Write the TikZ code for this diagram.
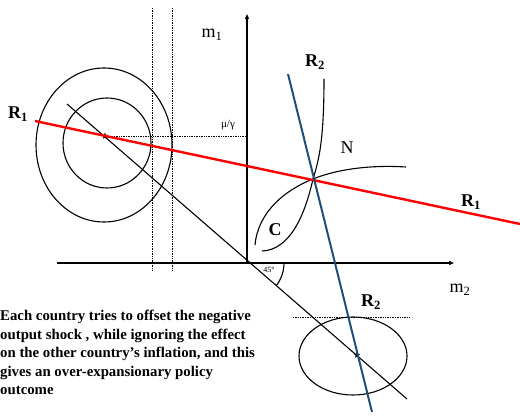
\documentclass[tikz,border=0pt]{standalone}
\usepackage{fontspec}
\setmainfont{Liberation Serif}
\usepackage{xcolor}
\usetikzlibrary{arrows.meta, positioning, shapes.geometric}
\definecolor{rtwoblue}{HTML}{1F4E79}

\begin{document}
\begin{tikzpicture}[
        x=1pt, y=-1pt,
        axis/.style={-{Triangle[length=5pt, width=4pt]}, line width=1.1pt},
        contour/.style={line width=1.1pt},
        guide/.style={densely dotted, line width=0.7pt},
        rone/.style={red, line width=2.4pt},
        rtwo/.style={rtwoblue, line width=2pt},
        lab/.style={font=\fontsize{18}{18}\selectfont, inner sep=0pt},
        blab/.style={lab, font=\fontsize{18}{18}\selectfont\bfseries},
        bliss/.style={star, star points=5, star point ratio=2.4, fill, inner sep=0pt, minimum size=7pt}
    ]
        \useasboundingbox (0,0) rectangle (520,417);

        % Points
        \coordinate (O) at (247,263);
        \coordinate (N) at (313,179);
        \node[bliss] (S1) at (105,136) {};
        \node[bliss] (S2) at (357,355) {};

        % Axes
        \coordinate (ytop) at (247,14);
        \coordinate (xleft) at (57,263);
        \coordinate (xright) at (454,263);
        \draw[axis] (O) -- (ytop);
        \draw[axis] (xleft) -- (xright);
        \node[lab] (m1) at (212,35) {m\textsubscript{1}};
        \node[lab] (m2) at (460,290) {m\textsubscript{2}};

        % Dotted guides
        \coordinate (d1t) at (152,8);  \coordinate (d1b) at (152,270);
        \coordinate (d2t) at (172,8);  \coordinate (d2b) at (172,270);
        \coordinate (muy) at (247,136);
        \coordinate (g2l) at (293,317); \coordinate (g2r) at (410,317);
        \draw[guide] (d1t) -- (d1b);
        \draw[guide] (d2t) -- (d2b);
        \draw[guide] (S1) -- (muy);
        \draw[guide] (g2l) -- (g2r);
        \node[font=\fontsize{11}{11}\selectfont, inner sep=0pt] (mu) at (228,125) {μ/γ};

        % Bliss contours
        \draw[contour] (104,145) ellipse [x radius=68, y radius=77];
        \draw[contour] (107,143) ellipse [x radius=44, y radius=45];
        \draw[contour] (353,356) ellipse [x radius=54, y radius=39];

        % 45 degree line
        \coordinate (dtop) at (67,104);
        \coordinate (dbot) at (407,399);
        \draw[contour] (dtop) -- (dbot);
        \draw[contour] ([xshift=37pt]O) arc[start angle=0, end angle=38, radius=37];
        \node[font=\footnotesize, inner sep=0pt] (ang) at (269,270) {45°};

        % Indifference curves through N
        \draw[contour] (324,79) .. controls (324,140) and (319,160) .. (N)
            .. controls (305,215) and (290,250) .. (262,251);
        \draw[contour] (255,245) .. controls (258,212) and (285,190) .. (N)
            .. controls (340,168) and (375,165) .. (406,167);
        \node[lab] (Nlab) at (347,148) {N};
        \node[blab] (Clab) at (275,230) {C};

        % Reaction lines
        \coordinate (r1a) at (35,121);
        \coordinate (r1b) at (520,224);
        \coordinate (r2a) at (288,74);
        \coordinate (r2b) at (372,412);
        \draw[rone] (r1a) -- (r1b);
        \draw[rtwo] (r2a) -- (r2b);
        \node[blab] (R1l) at (18,114) {R\textsubscript{1}};
        \node[blab] (R1r) at (471,202) {R\textsubscript{1}};
        \node[blab] (R2t) at (315,62) {R\textsubscript{2}};
        \node[blab] (R2b) at (371,302) {R\textsubscript{2}};

        % Note
        \node[anchor=north west, align=left, inner sep=0pt,
              font=\fontsize{14.8}{18.5}\selectfont\bfseries] (note) at (0,310)
            {Each country tries to offset the negative\\
             output shock , while ignoring the effect\\
             on the other country’s inflation, and this\\
             gives an over-expansionary policy\\
             outcome};

    \end{tikzpicture}
\end{document}
